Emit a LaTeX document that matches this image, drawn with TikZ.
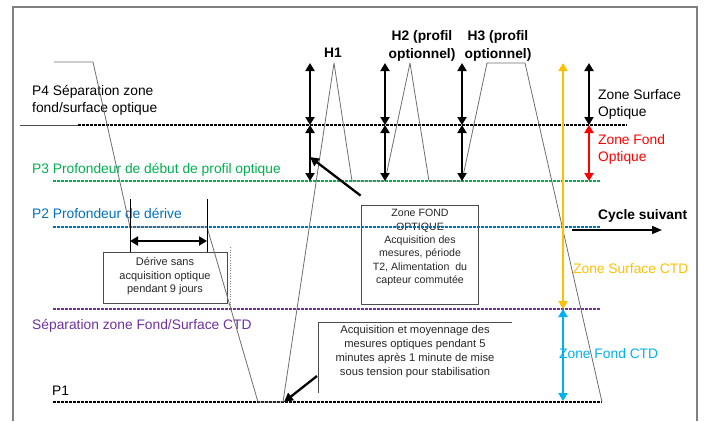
\documentclass[tikz,border=0pt]{standalone}
\usepackage{fontspec}
\setmainfont{Liberation Sans}
\usetikzlibrary{arrows.meta}
\definecolor{cgreen}{RGB}{0,176,80}
\definecolor{cblue}{RGB}{0,112,192}
\definecolor{cpurple}{RGB}{112,48,160}
\definecolor{corange}{RGB}{255,192,0}
\definecolor{ccyan}{RGB}{0,176,240}
\definecolor{cred}{RGB}{255,0,0}
\definecolor{ctraj}{RGB}{110,110,110}
\begin{document}
\begin{tikzpicture}[x=1pt,y=-1pt,
  lbl/.style={inner sep=0pt, anchor=base west, font=\fontsize{13.8}{16}\selectfont},
  blbl/.style={inner sep=0pt, anchor=base, font=\fontsize{13.8}{16}\selectfont\bfseries},
  boxtxt/.style={inner sep=0pt, anchor=base, text=black!85, font=\fontsize{#1}{13}\selectfont},
  boxtxt/.default=11,
  level/.style={line width=1.2pt, dash pattern=on 3pt off 1pt},
  traj/.style={draw=ctraj, line width=0.8pt, line join=round},
  tipd/.tip={Triangle[length=8pt,width=9pt]},
  dbl/.style={line width=2.6pt, tipd-tipd},
  callout/.style={line width=2.3pt, -{Triangle[length=9pt,width=9pt]}},
  boxline/.style={draw=black!70, line width=0.8pt},
]
\useasboundingbox (0,0) rectangle (704,421);
% frame
\coordinate (fbl) at (13,421); \coordinate (ftl) at (13,7);
\coordinate (ftr) at (697,7); \coordinate (fbr) at (697,421);
\draw[gray, line width=1.5pt] (fbl) -- (ftl) -- (ftr) -- (fbr);

% labels of levels
\node[lbl] (p4a) at (32,95) {P4 Séparation zone};
\node[lbl] (p4b) at (32,112) {fond/surface optique};
\node[lbl, text=cgreen] (p3l) at (32,173) {P3 Profondeur de début de profil optique};
\node[lbl, text=cblue] (p2l) at (32,218) {P2 Profondeur de dérive};
\node[lbl, text=cpurple] (ctdl) at (32,329) {Séparation zone Fond/Surface CTD};
\node[lbl] (p1l) at (52,395) {P1};

% titles
\node[blbl] (h1) at (333,57) {H1};
\node[blbl] (h2a) at (422,40) {H2 (profil};
\node[blbl] (h2b) at (422,58) {optionnel)};
\node[blbl] (h3a) at (498,40) {H3 (profil};
\node[blbl] (h3b) at (498,58) {optionnel)};

% zone labels
\node[lbl] (zso1) at (598,99) {Zone Surface};
\node[lbl] (zso2) at (598,116) {Optique};
\node[lbl, text=cred] (zfo1) at (598,144) {Zone Fond};
\node[lbl, text=cred] (zfo2) at (598,161) {Optique};
\node[lbl, text=corange] (zsc) at (573,273) {Zone Surface CTD};
\node[lbl, text=ccyan] (zfc) at (559,358) {Zone Fond CTD};
\node[lbl, font=\fontsize{13.8}{16}\selectfont\bfseries] (cyc) at (598,219) {Cycle suivant};

% boxes
\node[boxline, minimum width=117pt, minimum height=99pt, inner sep=0pt] (fondbox) at (419.5,254.5) {};
\node[boxtxt=10.6] (f1) at (420,216) {Zone FOND};
\node[boxtxt=10.6] (f2) at (420,230) {OPTIQUE};
\node[boxtxt=10.6] (f3) at (420,243) {Acquisition des};
\node[boxtxt=10.6] (f4) at (420,256) {mesures, période};
\node[boxtxt=10.6] (f5) at (420,270) {T2, Alimentation\ \ du};
\node[boxtxt=10.6] (f6) at (420,283) {capteur commutée};

\node[boxline, minimum width=124pt, minimum height=51pt, inner sep=0pt] (derbox) at (165,277.5) {};
\node[boxtxt] (d1) at (165,265) {Dérive sans};
\node[boxtxt] (d2) at (165,279) {acquisition optique};
\node[boxtxt] (d3) at (165,292) {pendant 9 jours};
\coordinate (dsh1) at (230,247); \coordinate (dsh2) at (230,306);
\draw[gray, line width=0.6pt, dotted] (dsh1) -- (dsh2);

\coordinate (acqR) at (512,322); \coordinate (acqC) at (318,322); \coordinate (acqB) at (318,393);
\draw[boxline] (acqR) -- (acqC) -- (acqB);
\node[boxtxt=11.2] (a1) at (415,333) {Acquisition et moyennage des};
\node[boxtxt=11.2] (a2) at (415,347) {mesures optiques pendant 5};
\node[boxtxt=11.2] (a3) at (415,361) {minutes après 1 minute de mise};
\node[boxtxt=11.2] (a4) at (415,375) {sous tension pour stabilisation};

% level lines
\coordinate (p4s) at (20,125); \coordinate (p4m) at (78,125); \coordinate (p4e) at (627,125);
\draw[black!70, line width=0.7pt] (p4s) -- (p4m);
\draw[level, black] (p4m) -- (p4e);
\coordinate (p3s) at (53,181); \coordinate (p3e) at (600,181);
\draw[level, cgreen] (p3s) -- (p3e);
\coordinate (p2s) at (53,227); \coordinate (p2e) at (601,227);
\draw[level, cblue] (p2s) -- (p2e);
\coordinate (cts) at (53,309); \coordinate (cte) at (601,309);
\draw[level, cpurple] (cts) -- (cte);
\coordinate (p1s) at (53,402); \coordinate (p1e) at (602,402);
\draw[level, black, line width=1.4pt] (p1s) -- (p1e);

% trajectory
\coordinate (t0) at (54,62);
\coordinate (t1) at (93,62);
\coordinate (t2) at (130,227);
\coordinate (t3) at (207,227);
\coordinate (t4) at (258,402);
\coordinate (t5) at (283,402);
\coordinate (t6) at (334,63);
\coordinate (t7) at (352,181);
\coordinate (t8) at (385,181);
\coordinate (t9) at (410,63);
\coordinate (t10) at (429,181);
\coordinate (t11) at (462,181);
\coordinate (t12) at (487,63);
\coordinate (t13) at (525,63);
\coordinate (t14) at (602,402);
\draw[traj] (t0) -- (t1) -- (t2) -- (t3) -- (t4) -- (t5) -- (t6) -- (t7) -- (t8) -- (t9) -- (t10) -- (t11) -- (t12) -- (t13) -- (t14);

% drift marker
\coordinate (dl1) at (130,199); \coordinate (dl2) at (130,252);
\coordinate (dr1) at (207,199); \coordinate (dr2) at (207,252);
\draw[black, line width=0.7pt] (dl1) -- (dl2) (dr1) -- (dr2);
\coordinate (da) at (130,241); \coordinate (db) at (207,241);
\draw[dbl] (da) -- (db);

% double arrows
\foreach \x/\n in {310/a,385/b,462/c,589/d}{
  \coordinate (\n t) at (\x,63);
  \coordinate (\n m) at (\x,125);
  \coordinate (\n b) at (\x,181);
}
\draw[dbl] (at) -- (am); \draw[dbl] (am) -- (ab);
\draw[dbl] (bt) -- (bm); \draw[dbl] (bm) -- (bb);
\draw[dbl] (ct) -- (cm); \draw[dbl] (cm) -- (cb);
\draw[dbl] (dt) -- (dm); \draw[dbl, cred] (dm) -- (db);

\coordinate (ot) at (563,63); \coordinate (om) at (563,309); \coordinate (ob) at (563,401);
\draw[dbl, corange, line width=2.2pt] (ot) -- (om);
\draw[dbl, ccyan, line width=2.2pt] (om) -- (ob);

% callouts
\coordinate (c1) at (310,157);
\draw[callout] ([yshift=9pt]fondbox.north west) -- (c1);
\coordinate (c2s) at (317,376); \coordinate (c2) at (284,402);
\draw[callout] (c2s) -- (c2);

% cycle arrow
\coordinate (cy1) at (572,230); \coordinate (cy2) at (662,230);
\draw[line width=1.6pt, -{Triangle[length=10pt,width=8pt]}] (cy1) -- (cy2);
\end{tikzpicture}
\end{document}
